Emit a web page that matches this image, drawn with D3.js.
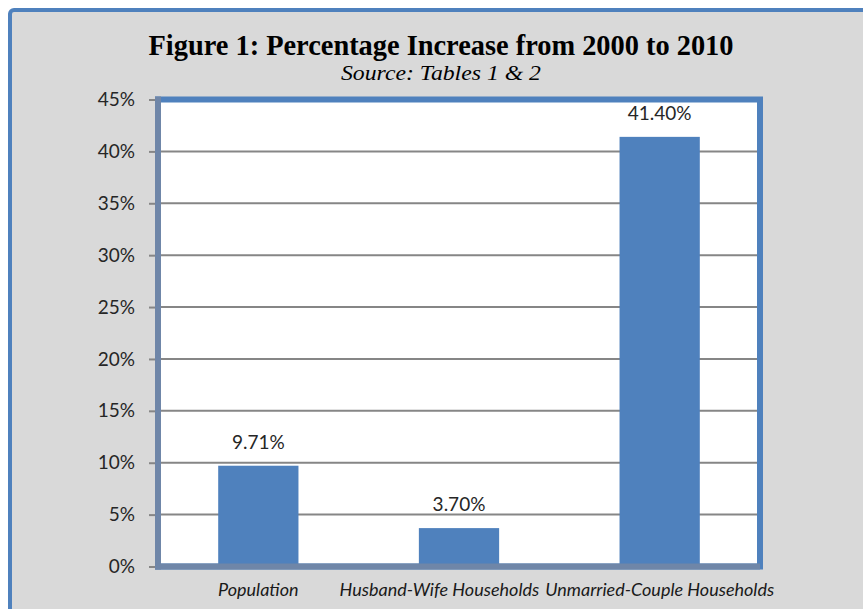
<!DOCTYPE html>
<html>
<head>
<meta charset="utf-8">
<script src="https://cdn.jsdelivr.net/npm/d3@7"></script>
<style>
  body { margin: 0; background: #fff; }
</style>
</head>
<body>
<div id="chart"></div>
<script>
var categories = ["Population", "Husband-Wife Households", "Unmarried-Couple Households"];
var values = [9.71, 3.70, 41.40];
var yTicks = [0, 5, 10, 15, 20, 25, 30, 35, 40, 45];
var titleText = "Figure 1: Percentage Increase from 2000 to 2010";
var subtitleText = "Source: Tables 1 & 2";

var W = 863, H = 609;
var plot = {left: 158, right: 760, top: 99.5, bottom: 566.5};

var svg = d3.select("#chart")
  .append("svg")
    .attr("width", W)
    .attr("height", H);

// chart area with blue border
svg.append("rect")
  .attr("x", 10).attr("y", 10)
  .attr("width", 900).attr("height", 700)
  .attr("rx", 4)
  .attr("fill", "#d9d9d9")
  .attr("stroke", "#4f81bd")
  .attr("stroke-width", 4);

// titles
svg.append("text")
  .attr("x", 441).attr("y", 55)
  .attr("text-anchor", "middle")
  .attr("textLength", 585)
  .attr("lengthAdjust", "spacingAndGlyphs")
  .style("font-family", "'Liberation Serif', 'Times New Roman', serif")
  .style("font-weight", "bold")
  .style("font-size", "30px")
  .style("fill", "#000")
  .text(titleText);

svg.append("text")
  .attr("x", 441).attr("y", 80)
  .attr("text-anchor", "middle")
  .attr("textLength", 200)
  .attr("lengthAdjust", "spacingAndGlyphs")
  .style("font-family", "'Liberation Serif', 'Times New Roman', serif")
  .style("font-style", "italic")
  .style("font-size", "21px")
  .style("fill", "#000")
  .text(subtitleText);

var x = d3.scaleBand()
  .domain(categories)
  .range([plot.left, plot.right])
  .paddingInner(0.6)
  .paddingOuter(0.3);

var y = d3.scaleLinear()
  .domain([0, 45])
  .range([plot.bottom, plot.top]);

// plot area
svg.append("rect")
  .attr("x", plot.left).attr("y", plot.top)
  .attr("width", plot.right - plot.left)
  .attr("height", plot.bottom - plot.top)
  .attr("fill", "#fff");

// gridlines
svg.append("g")
  .selectAll("line")
  .data(yTicks.slice(1, -1))
  .join("line")
    .attr("x1", plot.left).attr("x2", plot.right)
    .attr("y1", d => y(d)).attr("y2", d => y(d))
    .attr("stroke", "#868686")
    .attr("stroke-width", 2);

// bars
svg.append("g")
  .selectAll("rect")
  .data(values)
  .join("rect")
    .attr("x", (d, i) => x(categories[i]))
    .attr("y", d => y(d))
    .attr("width", x.bandwidth())
    .attr("height", d => y(0) - y(d))
    .attr("fill", "#4f81bd");

// plot frame: blue top/right, gray axis lines left/bottom
svg.append("rect")
  .attr("x", plot.left).attr("y", plot.top)
  .attr("width", plot.right - plot.left)
  .attr("height", plot.bottom - plot.top)
  .attr("fill", "none")
  .attr("stroke", "#4f81bd")
  .attr("stroke-width", 6);

svg.append("line")
  .attr("x1", plot.left).attr("x2", plot.left)
  .attr("y1", plot.top - 3).attr("y2", plot.bottom + 3)
  .attr("stroke", "#6f86a8").attr("stroke-width", 6);
svg.append("line")
  .attr("x1", plot.left - 3).attr("x2", plot.right)
  .attr("y1", plot.bottom).attr("y2", plot.bottom)
  .attr("stroke", "#6f86a8").attr("stroke-width", 6);

// y axis ticks and labels
var yAxis = svg.append("g")
  .attr("transform", "translate(" + (plot.left - 3) + ",0)")
  .call(d3.axisLeft(y).tickValues(yTicks).tickSize(6).tickPadding(14)
    .tickFormat(d => d + "%"));
yAxis.select(".domain").remove();
yAxis.selectAll(".tick line")
  .attr("stroke", "#868686")
  .attr("stroke-width", 2);
yAxis.selectAll("text")
  .style("font-family", "Lato, 'Open Sans', sans-serif")
  .style("font-size", "19px")
  .style("fill", "#262626");

// data labels
svg.append("g")
  .selectAll("text")
  .data(values)
  .join("text")
    .attr("x", (d, i) => x(categories[i]) + x.bandwidth() / 2)
    .attr("y", d => y(d) - 17)
    .attr("text-anchor", "middle")
    .style("font-family", "Lato, 'Open Sans', sans-serif")
    .style("font-size", "19px")
    .style("fill", "#262626")
    .text(d => d.toFixed(2) + "%");

// category labels, pushed apart when they would overlap
var catLabels = svg.append("g")
  .selectAll("text")
  .data(categories)
  .join("text")
    .attr("x", d => x(d) + x.bandwidth() / 2)
    .attr("y", 596)
    .attr("text-anchor", "middle")
    .style("font-family", "Lato, 'Open Sans', sans-serif")
    .style("font-style", "italic")
    .style("font-size", "18px")
    .style("fill", "#1a1a1a")
    .text(d => d);

var nodes = catLabels.nodes();
for (var i = nodes.length - 2; i >= 0; i--) {
  var a = nodes[i].getBBox(), b = nodes[i + 1].getBBox();
  var overlap = a.x + a.width + 6 - b.x;
  if (overlap > 0) {
    nodes[i].setAttribute("x", +nodes[i].getAttribute("x") - overlap);
  }
}
</script>
</body>
</html>
